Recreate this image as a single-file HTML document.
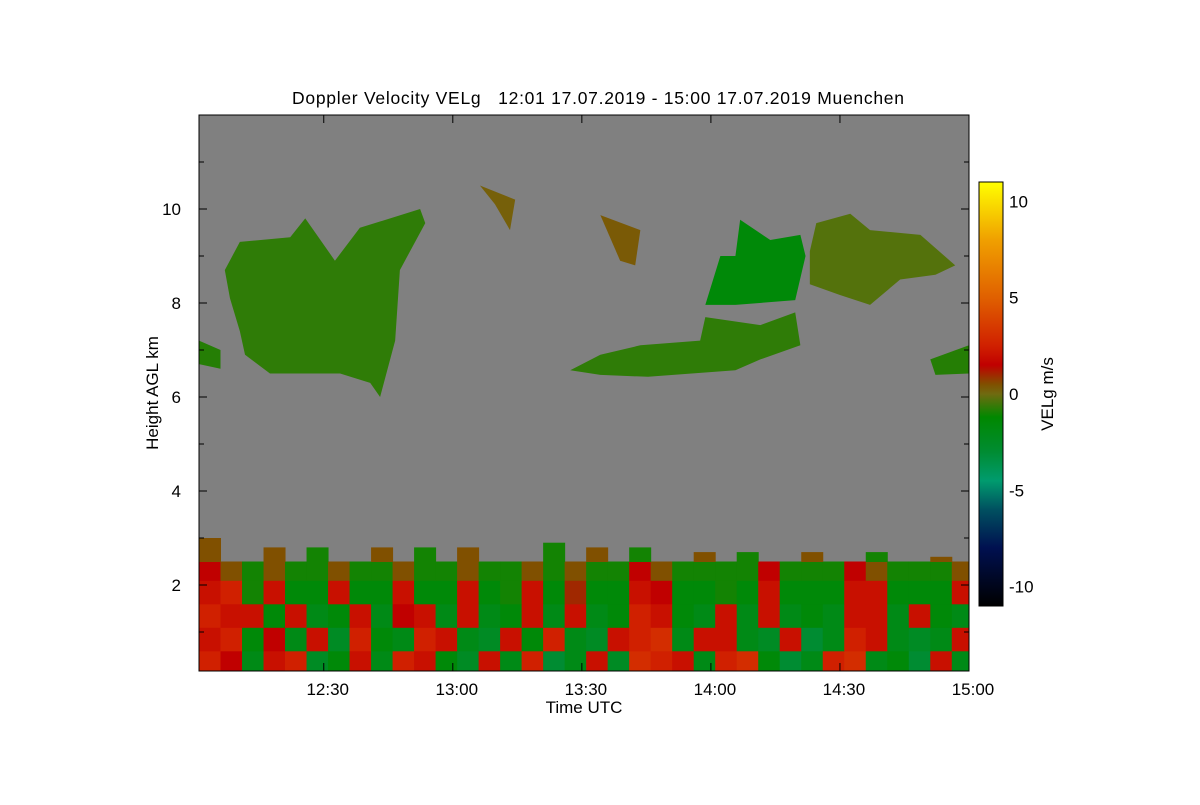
<!DOCTYPE html>
<html><head><meta charset="utf-8"><style>
body{margin:0;background:#fff;font-family:"Liberation Sans",sans-serif}
svg text{font-family:"Liberation Sans",sans-serif;fill:#000}
</style></head><body>
<svg id="chart" width="1200" height="800" xmlns="http://www.w3.org/2000/svg">
<defs>
<linearGradient id="cbg" x1="0" y1="1" x2="0" y2="0"></linearGradient>
<clipPath id="clip"><rect x="199" y="115" width="770" height="556"/></clipPath>
</defs>
<rect x="0" y="0" width="1200" height="800" fill="#fff"/>
<text x="598" y="104" font-size="17.5" text-anchor="middle" textLength="612" lengthAdjust="spacing" style="white-space:pre">Doppler Velocity VELg   12:01 17.07.2019 - 15:00 17.07.2019 Muenchen</text>
<rect x="199" y="115" width="770" height="556" fill="#808080"/>
<g id="marks" clip-path="url(#clip)"></g>
<rect x="199" y="115" width="770" height="556" fill="none" stroke="#000" stroke-width="1"/>
<g id="axes"></g>
<text x="584" y="713" font-size="17" text-anchor="middle">Time UTC</text>
<text transform="translate(158,393) rotate(-90)" font-size="17" text-anchor="middle">Height AGL km</text>
<rect id="cbar" x="979" y="182" width="24" height="424" fill="url(#cbg)" stroke="#000"/>
<text transform="translate(1053,394) rotate(-90)" font-size="17" text-anchor="middle">VELg m/s</text>
</svg>
<script>
const NS="http://www.w3.org/2000/svg";
// data
const xTickLabels=["12:30","13:00","13:30","14:00","14:30","15:00"];
const xTickMinutes=[29,59,89,119,149,179];
const yTickValues=[2,4,6,8,10];
const cbTickValues=[10,5,0,-5,-10];
const blTimes=[0,5,10,15,20,25,30,35,40,45,50,55,60,65,70,75,80,85,90,95,100,105,110,115,120,125,130,135,140,145,150,155,160,165,170,175];
const blHeights=[0.17,0.6,1.1,1.6,2.1,2.5];
const blRow0=[2.5,1.5,-2,2,2.5,-2.5,-1.5,2,-2,2.5,2,-1.5,-2.5,2,-2,2.5,-3,-2,2,-2.5,3,2.5,2,-2,2.5,3,-1.5,-3,-2,2.5,3,-2,-1.5,-3,2,-2];
const blRow1=[2,2.5,-1.5,1.5,-2,2,-2.5,2.5,-1.5,-2,2.5,2,-2,-2.5,2,-1.5,2.5,-2,-2.5,2,2.5,3,-2,2,2,-2,-2.5,2,-3,-2,2.5,2,-2,-2.5,-2,2];
const blRow2=[2.5,2,2,-1.5,2,-2,-1.5,2,-2,1.5,2,-2,2,-2,-1.5,2,-2,2,-2,-1.5,2.5,2,-1.5,-2,2,-2,2,-2,-1.5,-2,2,2,-2,2,-1.5,-2];
const blRow3=[2,2.5,-1,2,-1.5,-1.5,2,-1.5,-1.5,2,-1.5,-1.5,2,-1.5,-1,2,-1.5,1,-1.5,-1.5,2,1.5,-1.5,-1.5,-1,-1.5,2,-1.5,-1.5,-1.5,2,2,-1.5,-1.5,-1.5,2];
const blRow4=[1.5,0.5,-1,0.5,-1,-1,0.5,-1,-1,0.5,-1,-1,0.5,-1,-1,0.5,-1,0.5,-1,-1,1.5,0.5,-1,-1,-1,-1,1.5,-1,-1,-1,1.5,0.5,-1,-1,-1,0.5];
const blRow5=[0.5,null,null,0.5,null,-1,null,null,0.5,null,-1,null,0.5,null,null,null,-1,null,0.5,null,-1,null,null,0.5,null,-1,null,null,0.5,null,null,-1,null,null,0.5,null];
const blValues=[blRow0,blRow1,blRow2,blRow3,blRow4,blRow5];
const blTops=[3.0,2.9,2.8,2.8,2.7,2.8,2.9,2.8,2.8,2.7,2.8,2.9,2.8,2.7,2.8,2.8,2.9,2.8,2.8,2.9,2.8,2.7,2.6,2.7,2.6,2.7,2.7,2.8,2.7,2.7,2.8,2.7,2.6,2.7,2.6,2.6];
const cloudLeft=[[6,8.7],[9.5,9.3],[21.2,9.4],[24.7,9.8],[31.6,8.9],[37.4,9.6],[51.4,10],[52.6,9.7],[46.7,8.7],[45.6,7.2],[42.1,6],[39.8,6.3],[32.8,6.5],[16.5,6.5],[10.7,6.9],[9.5,7.4],[7.2,8.1]];
const cloudRight=[[142,9.1],[143.5,9.7],[151.4,9.9],[156,9.55],[167.7,9.45],[175.8,8.8],[171.2,8.6],[163,8.5],[156,7.96],[149,8.17],[142,8.4]];
const cloudMid=[[117.7,7.96],[121.2,9],[124.7,9],[125.8,9.77],[132.8,9.34],[139.8,9.45],[141,9],[138.6,8.06],[124.7,7.96]];
const cloudLow=[[86.3,6.57],[93.3,6.9],[102.6,7.1],[116.5,7.2],[117.7,7.7],[130.5,7.53],[138.6,7.8],[139.8,7.1],[130.5,6.8],[124.7,6.57],[104.4,6.43],[93.3,6.47]];
const cloudSmallA=[[93.3,9.87],[102.6,9.55],[101.4,8.8],[97.9,8.9]];
const cloudSmallB=[[65.3,10.5],[73.5,10.2],[72.3,9.55],[68.8,10.1]];
const cloudEdgeR=[[170,6.8],[179,7.1],[179,6.5],[171.2,6.47]];
const cloudEdgeL=[[0,7.2],[5,7],[5,6.6],[0,6.7]];
const clouds=[cloudLeft,cloudRight,cloudMid,cloudLow,cloudSmallA,cloudSmallB,cloudEdgeR,cloudEdgeL];
const cloudVel=[-0.7,-0.3,-1.5,-0.7,0.3,0.2,-0.8,-0.8];

const X=m=>199+m*770/179;
const Y=h=>679-h*47;
const CB=v=>394-v*(424/22);
const stops=[[-11,[0,0,0]],[-8,[0,16,80]],[-6,[0,80,96]],[-4.5,[0,155,110]],[-3,[0,140,50]],[-1.2,[0,136,0]],[0,[112,106,16]],[0.5,[128,80,0]],[1.5,[192,0,0]],[2.5,[208,32,0]],[5,[224,96,0]],[8,[240,160,0]],[11,[255,255,0]]];
function col(v){if(v<=stops[0][0])return "rgb(0,0,0)";for(let i=1;i<stops.length;i++){if(v<=stops[i][0]){const a=stops[i-1],b=stops[i],t=(v-a[0])/(b[0]-a[0]);const c=a[1].map((x,k)=>Math.round(x+(b[1][k]-x)*t));return `rgb(${c})`;}}return "rgb(255,255,0)";}
const g=document.getElementById('cbg');
stops.forEach(s=>{const st=document.createElementNS(NS,'stop');st.setAttribute('offset',((s[0]+11)/22));st.setAttribute('stop-color',col(s[0]));g.appendChild(st);});
const marks=document.getElementById('marks');
for(let r=0;r<blHeights.length;r++){for(let c=0;c<blTimes.length;c++){const v=blValues[r][c];if(v===null)continue;
const h0=blHeights[r],h1=r+1<blHeights.length?blHeights[r+1]:blTops[c];
const rc=document.createElementNS(NS,'rect');


const x0=X(blTimes[c]),x1=X(c+1<blTimes.length?blTimes[c+1]:179.5);
rc.setAttribute('x',x0);rc.setAttribute('width',x1-x0+0.5);
rc.setAttribute('y',Y(h1));rc.setAttribute('height',Y(h0)-Y(h1)+0.5);
rc.setAttribute('fill',col(v));marks.appendChild(rc);}}
clouds.forEach((pts,i)=>{const p=document.createElementNS(NS,'polygon');


p.setAttribute('points',pts.map(q=>X(q[0])+','+Y(q[1])).join(' '));p.setAttribute('fill',col(cloudVel[i]));marks.appendChild(p);});
const ax=document.getElementById('axes');
function line(x1,y1,x2,y2){const l=document.createElementNS(NS,'line');l.setAttribute('x1',x1);l.setAttribute('y1',y1);l.setAttribute('x2',x2);l.setAttribute('y2',y2);l.setAttribute('stroke','#000');


ax.appendChild(l);}
function txt(x,y,s,anchor){const t=document.createElementNS(NS,'text');t.setAttribute('x',x);t.setAttribute('y',y);t.setAttribute('font-size','17');t.setAttribute('text-anchor',anchor);t.textContent=s;


ax.appendChild(t);}
xTickMinutes.forEach((m,i)=>{const x=X(m);line(x,671,x,663);line(x,115,x,123);txt(x+4,695,xTickLabels[i],'middle');});
yTickValues.forEach(v=>{const y=Y(v);line(199,y,207,y);line(969,y,961,y);txt(181,y+6,String(v),'end');});
for(let v=1;v<12;v+=2){const y=Y(v);line(199,y,204,y);line(969,y,964,y);}
cbTickValues.forEach(v=>{const y=CB(v);line(1003,y,997,y);txt(1009,y+6,String(v),'start');});
</script>
</body></html>
